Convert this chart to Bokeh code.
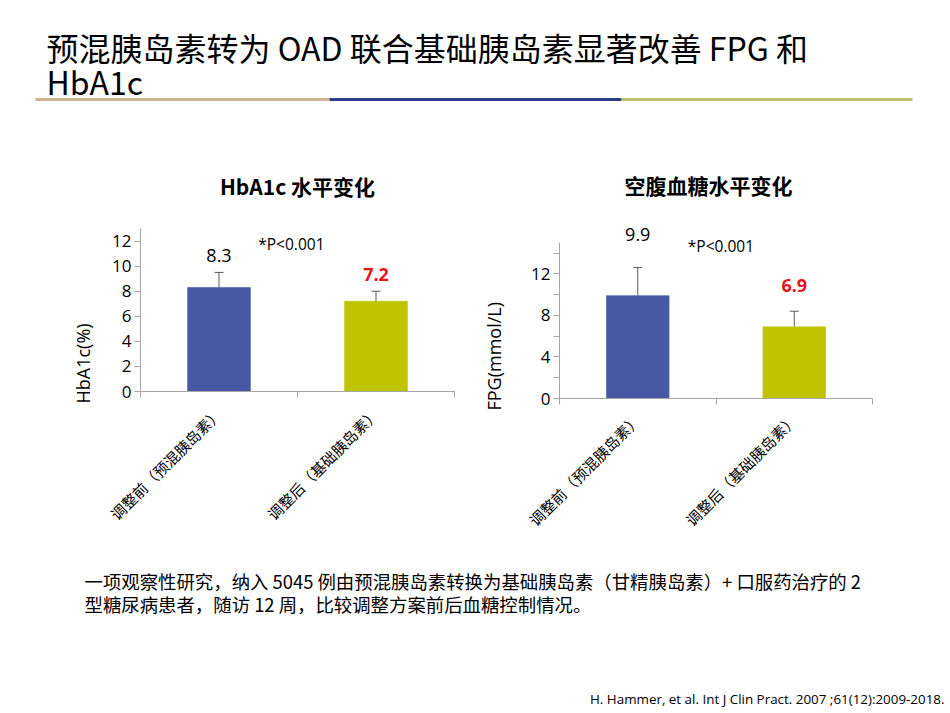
import math
from bokeh.plotting import figure
from bokeh.models import (ColumnDataSource, Whisker, TeeHead, FixedTicker, Label,
                          Range1d, Title)
from bokeh.layouts import column, row
from bokeh.embed import file_html
from bokeh.resources import INLINE
from bokeh.core.properties import value

# ---------------- data ----------------
categories = ["调整前（预混胰岛素）", "调整后（基础胰岛素）"]
hba1c_values = [8.3, 7.2]
hba1c_err = [1.2, 0.8]
fpg_values = [9.9, 6.9]
fpg_err = [2.7, 1.5]
hba1c_ticks = [0, 2, 4, 6, 8, 10, 12]
fpg_ticks = [0, 4, 8, 12]
fpg_minor_ticks = [2, 6, 10, 14]
p_text = "*P<0.001"

main_title_1 = "预混胰岛素转为 OAD 联合基础胰岛素显著改善 FPG 和"
main_title_2 = "HbA1c"
chart1_title = "HbA1c 水平变化"
chart2_title = "空腹血糖水平变化"
y_title_1 = "HbA1c(%)"
y_title_2 = "FPG(mmol/L)"
body_1 = "一项观察性研究，纳入 5045 例由预混胰岛素转换为基础胰岛素（甘精胰岛素）+ 口服药治疗的 2"
body_2 = "型糖尿病患者，随访 12 周，比较调整方案前后血糖控制情况。"
citation = "H. Hammer, et al. Int J Clin Pract. 2007 ;61(12):2009-2018."

# ---------------- style ----------------
CJK = "Noto Sans CJK SC"
LAT = "Open Sans"
BAR_COLORS = ["#4759A5", "#C0C400"]
AXIS_GREY = "#A6A6A6"
ERR_COLOR = "#595959"
RED = "#E8141B"
W = 950


def canvas(height, y_top):
    p = figure(width=W, height=height, x_range=Range1d(0, W),
               y_range=Range1d(y_top + height, y_top), toolbar_location=None,
               output_backend="svg", min_border=0, x_axis_type=None,
               y_axis_type=None)
    p.outline_line_color = None
    p.grid.visible = False
    p.background_fill_color = "white"
    p.border_fill_color = "white"
    return p


# ---------------- header ----------------
HEADER_H = 203
header = canvas(HEADER_H, 0)
header.text(x=[46], y=[46], text=[main_title_1], text_font=value(CJK),
            text_font_size="32px", text_baseline="middle", text_color="#000000")
header.text(x=[46], y=[80], text=[main_title_2], text_font=value(CJK),
            text_font_size="32px", text_baseline="middle", text_color="#000000")
header.segment(x0=[35, 329, 621], x1=[329, 621, 912], y0=[99] * 3, y1=[99] * 3,
               line_color=["#CBB592", "#2E3C8C", "#BCBE6C"], line_width=3)
header.text(x=[297], y=[185], text=[chart1_title], text_font=value(CJK),
            text_font_size="21px", text_font_style="bold", text_align="center",
            text_baseline="middle", text_color="#000000")
header.text(x=[708], y=[184], text=[chart2_title], text_font=value(CJK),
            text_font_size="21px", text_font_style="bold", text_align="center",
            text_baseline="middle", text_color="#000000")


# ---------------- charts ----------------
def bar_chart(vals, errs, ymax, ybound, ticks, minor, ylabel, width, height,
              left, right, bottom, label_offsets, p_pos, ylabel_shift,
              ylabel_standoff, x_standoff):
    n = len(categories)
    xs = [i + 0.5 for i in range(n)]
    src = ColumnDataSource(dict(x=xs, top=vals, upper=[v + e for v, e in zip(vals, errs)],
                                color=BAR_COLORS[:n]))
    p = figure(width=width, height=height, x_range=Range1d(0, n),
               y_range=Range1d(0, ymax), toolbar_location=None,
               output_backend="svg", min_border_left=left,
               min_border_right=right, min_border_top=0,
               min_border_bottom=bottom)
    p.outline_line_color = None
    p.grid.visible = False
    p.vbar(x="x", top="top", width=0.4, source=src, fill_color="color",
           line_color="color", line_alpha=0.6)
    p.add_layout(Whisker(base="x", lower="top", upper="upper", source=src,
                         line_color=ERR_COLOR, line_width=1,
                         upper_head=TeeHead(size=9, line_color=ERR_COLOR, line_width=1),
                         lower_head=None))
    # y axis
    ya = p.yaxis[0]
    ya.ticker = FixedTicker(ticks=ticks, minor_ticks=minor)
    ya.bounds = (0, ybound)
    ya.axis_line_color = AXIS_GREY
    ya.major_tick_line_color = AXIS_GREY
    ya.minor_tick_line_color = AXIS_GREY
    ya.major_tick_in = 0
    ya.major_tick_out = 6
    ya.minor_tick_in = 0
    ya.minor_tick_out = 6
    ya.major_label_standoff = 3
    ya.major_label_text_font = LAT
    ya.major_label_text_font_size = "17px"
    ya.major_label_text_color = "#000000"
    # y axis title (placed lower than the frame centre, as in the original)
    p.add_layout(Title(text=ylabel, align="left", offset=ylabel_shift,
                       standoff=ylabel_standoff, text_font=LAT,
                       text_font_size="18px", text_font_style="normal",
                       text_color="#000000"), "left")
    # x axis
    xa = p.xaxis[0]
    xa.ticker = FixedTicker(ticks=xs, minor_ticks=list(range(n + 1)))
    xa.major_label_overrides = {x: c for x, c in zip(xs, categories)}
    xa.axis_line_color = AXIS_GREY
    xa.major_tick_line_color = None
    xa.minor_tick_line_color = AXIS_GREY
    xa.minor_tick_in = 0
    xa.minor_tick_out = 6
    xa.major_label_orientation = math.pi / 4
    xa.major_label_standoff = x_standoff
    xa.major_label_text_font = CJK
    xa.major_label_text_font_size = "15px"
    xa.major_label_text_color = "#000000"
    # value labels
    for i, (v, e) in enumerate(zip(vals, errs)):
        is_after = i == n - 1
        p.add_layout(Label(x=xs[i], y=v + e, y_offset=label_offsets[i],
                           text=f"{v:.1f}", text_align="center",
                           text_baseline="middle", text_font=LAT,
                           text_font_size="18px",
                           text_font_style="bold" if is_after else "normal",
                           text_color=RED if is_after else "#000000"))
    p.add_layout(Label(x=p_pos[0], y=p_pos[1], text=p_text, text_align="left",
                       text_baseline="middle", text_font=LAT,
                       text_font_size="15.5px", text_color="#000000"))
    return p


ROW_H = 337
fig1 = bar_chart(hba1c_values, hba1c_err, 15, 13, hba1c_ticks,
                 [], y_title_1, 456, ROW_H, 140, 2, ROW_H - 188,
                 [17, 17], (0.75, 11.8), -12, 30, 13)
fig2 = bar_chart(fpg_values, fpg_err, 18.77, 15, fpg_ticks, fpg_minor_ticks,
                 y_title_2, 494, ROW_H, 102, 78, ROW_H - 195,
                 [33, 26], (0.82, 14.7), -12, 46, 12)

# ---------------- footer ----------------
FOOT_TOP = HEADER_H + ROW_H
footer = canvas(713 - FOOT_TOP, FOOT_TOP)
footer.text(x=[84, 84], y=[580, 603], text=[body_1, body_2], text_font=value(CJK),
            text_font_size="18.4px", text_baseline="middle", text_color="#000000")
footer.text(x=[944], y=[698], text=[citation], text_font=value(LAT),
            text_font_size="13.4px", text_baseline="middle", text_align="right",
            text_color="#000000")

layout = column(header, row(column(fig1), column(fig2)), footer)
open("out.html", "w").write(file_html(layout, INLINE))
